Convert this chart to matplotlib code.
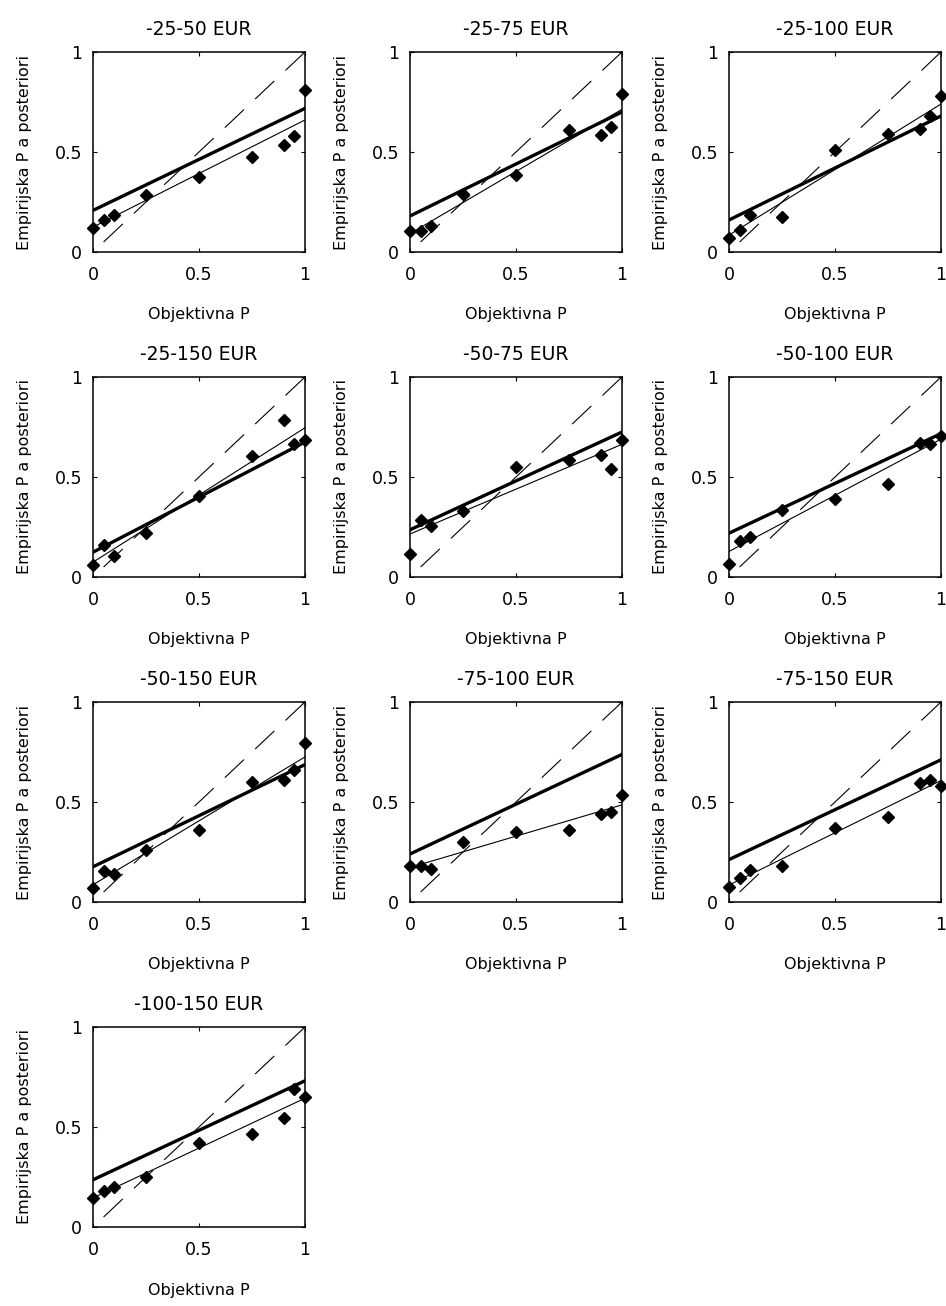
import numpy as np
import matplotlib
matplotlib.use("Agg")
import matplotlib.pyplot as plt

plt.rcParams['font.family'] = ['DejaVu Sans']
plt.rcParams['lines.scale_dashes'] = False

# Objective probabilities (x) shared by every gamble
objective_p = [0.0, 0.05, 0.10, 0.25, 0.50, 0.75, 0.90, 0.95, 1.0]

titles = [
    "-25-50 EUR", "-25-75 EUR", "-25-100 EUR",
    "-25-150 EUR", "-50-75 EUR", "-50-100 EUR",
    "-50-150 EUR", "-75-100 EUR", "-75-150 EUR",
    "-100-150 EUR",
]

# Empirical a-posteriori probabilities per gamble
emp_25_50 = [0.12, 0.158, 0.186, 0.286, 0.377, 0.477, 0.535, 0.58, 0.812]
emp_25_75 = [0.104, 0.107, 0.129, 0.288, 0.385, 0.61, 0.585, 0.626, 0.79]
emp_25_100 = [0.07, 0.11, 0.185, 0.176, 0.51, 0.588, 0.613, 0.68, 0.778]
emp_25_150 = [0.061, 0.16, 0.104, 0.222, 0.404, 0.605, 0.783, 0.664, 0.687]
emp_50_75 = [0.115, 0.283, 0.255, 0.33, 0.552, 0.585, 0.61, 0.539, 0.684]
emp_50_100 = [0.066, 0.18, 0.20, 0.334, 0.392, 0.466, 0.67, 0.664, 0.705]
emp_50_150 = [0.072, 0.155, 0.138, 0.259, 0.362, 0.60, 0.61, 0.662, 0.794]
emp_75_100 = [0.182, 0.179, 0.163, 0.302, 0.352, 0.362, 0.44, 0.448, 0.534]
emp_75_150 = [0.074, 0.119, 0.162, 0.182, 0.372, 0.425, 0.595, 0.608, 0.578]
emp_100_150 = [0.145, 0.182, 0.20, 0.252, 0.422, 0.464, 0.545, 0.69, 0.652]

empirical = [emp_25_50, emp_25_75, emp_25_100, emp_25_150, emp_50_75,
             emp_50_100, emp_50_150, emp_75_100, emp_75_150, emp_100_150]

# Model line: value at P=0 and at P=1 for each gamble
model_at_0 = [0.208, 0.18, 0.16, 0.124, 0.236, 0.219, 0.176, 0.24, 0.212, 0.236]
model_at_1 = [0.718, 0.70, 0.68, 0.675, 0.725, 0.717, 0.687, 0.738, 0.711, 0.731]

fig = plt.figure(figsize=(9.46, 13.06), dpi=100)

W, H = 946.0, 1306.0
col_left = [93, 410, 729]
row_top = [52, 377, 702, 1027]
ax_w, ax_h = 212, 200

x = np.array(objective_p)
for i, title in enumerate(titles):
    r, c = divmod(i, 3)
    left = col_left[c] / W
    bottom = 1 - (row_top[r] + ax_h) / H
    ax = fig.add_axes([left, bottom, ax_w / W, ax_h / H])
    y = np.array(empirical[i])

    # identity reference
    ax.plot(x[1:], x[1:], color='black', lw=0.8, dashes=(19, 11))
    # least-squares fit through the empirical points
    slope, intercept = np.polyfit(x, y, 1)
    ax.plot([0, 1], [intercept, intercept + slope], color='black', lw=0.8)
    # model prediction
    ax.plot([0, 1], [model_at_0[i], model_at_1[i]], color='black', lw=2.4)
    # data
    ax.plot(x, y, linestyle='none', marker='D', markersize=6,
            color='black', clip_on=False, zorder=5)

    ax.set_xlim(0, 1)
    ax.set_ylim(0, 1)
    ax.set_xticks([0, 0.5, 1])
    ax.set_yticks([0, 0.5, 1])
    ax.set_xticklabels(['0', '0.5', '1'])
    ax.set_yticklabels(['0', '0.5', '1'])
    ax.tick_params(direction='in', length=3, width=0.8, top=True, right=True,
                   labelsize=12.5)
    ax.tick_params(axis='x', pad=10)
    ax.tick_params(axis='y', pad=8)
    for s in ax.spines.values():
        s.set_linewidth(1.1)
    ax.set_title(title, fontsize=13.5, pad=12)
    ax.set_xlabel('Objektivna P', fontsize=11.5, labelpad=17)
    ax.set_ylabel('Empirijska P a posteriori', fontsize=11.5, labelpad=16)

fig.savefig('out.png', dpi=100)
